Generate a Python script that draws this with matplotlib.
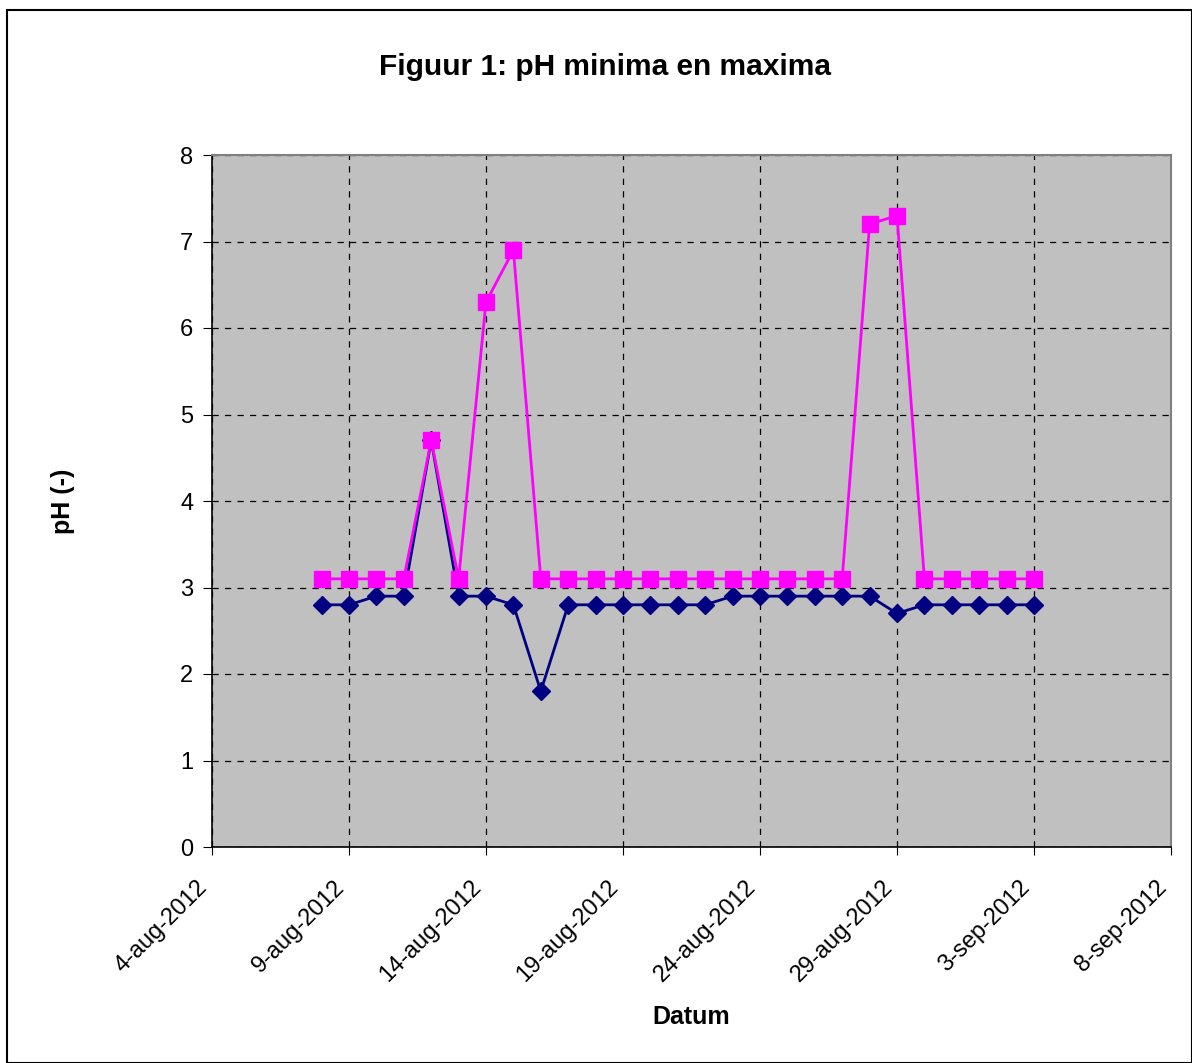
import matplotlib
matplotlib.use("Agg")
import matplotlib.pyplot as plt
import datetime as dt

start = dt.date(2012, 8, 8)
dates = [start + dt.timedelta(days=i) for i in range(27)]
ph_min = [2.8, 2.8, 2.9, 2.9, 4.7, 2.9, 2.9, 2.8, 1.8, 2.8, 2.8, 2.8, 2.8, 2.8,
          2.8, 2.9, 2.9, 2.9, 2.9, 2.9, 2.9, 2.7, 2.8, 2.8, 2.8, 2.8, 2.8]
ph_max = [3.1, 3.1, 3.1, 3.1, 4.7, 3.1, 6.3, 6.9, 3.1, 3.1, 3.1, 3.1, 3.1, 3.1,
          3.1, 3.1, 3.1, 3.1, 3.1, 3.1, 7.2, 7.3, 3.1, 3.1, 3.1, 3.1, 3.1]
tick_dates = [dt.date(2012, 8, 4) + dt.timedelta(days=5 * i) for i in range(8)]
tick_labels = ["4-aug-2012", "9-aug-2012", "14-aug-2012", "19-aug-2012",
               "24-aug-2012", "29-aug-2012", "3-sep-2012", "8-sep-2012"]

plt.rcParams['font.family'] = ['Liberation Sans', 'DejaVu Sans']

fig = plt.figure(figsize=(11.92, 10.63), dpi=100)
ax = fig.add_axes([212/1192, 1-847/1063, (1171-212)/1192, (847-155)/1063])

ax.set_facecolor('#C0C0C0')
ax.plot(dates, ph_min, color='#000080', marker='D', markersize=9, linewidth=2, zorder=3)
ax.plot(dates, ph_max, color='#FF00FF', marker='s', markersize=11, linewidth=2, zorder=4)

ax.set_xlim(tick_dates[0], tick_dates[-1])
ax.set_ylim(0, 8)
ax.set_xticks(tick_dates)
ax.set_xticklabels(tick_labels, rotation=45, ha='right', va='top', fontsize=17)
ax.set_yticks(range(9))
ax.tick_params(axis='y', labelsize=17, length=6.5, direction='out', pad=7)
ax.tick_params(axis='x', length=6, direction='out', pad=15)
ax.grid(True, color='black', linestyle=(0, (5, 5)), linewidth=0.9)
ax.set_axisbelow(True)
for s in ['top', 'right']:
    ax.spines[s].set_color('#808080')
    ax.spines[s].set_linewidth(1.5)
for s in ['left', 'bottom']:
    ax.spines[s].set_color('black')
    ax.spines[s].set_linewidth(1.2)

ax.set_xlabel('Datum', fontsize=18, fontweight='bold', va='center')
ax.xaxis.set_label_coords(691/1192, 1-1017/1063, transform=fig.transFigure)
ax.set_ylabel('pH (-)', fontsize=18, fontweight='bold', va='center')
ax.yaxis.set_label_coords(63/1192, 1-501/1063, transform=fig.transFigure)
fig.text(605/1192, 1-67/1063, 'Figuur 1: pH minima en maxima', fontsize=21.5,
         fontweight='bold', ha='center', va='center')

frame = plt.Rectangle((7/1192, 0), 1 - 7/1192, 1 - 10/1063, transform=fig.transFigure,
                      fill=False, edgecolor='black', linewidth=1.5)
fig.patches.append(frame)

fig.savefig('out.png', dpi=100)
